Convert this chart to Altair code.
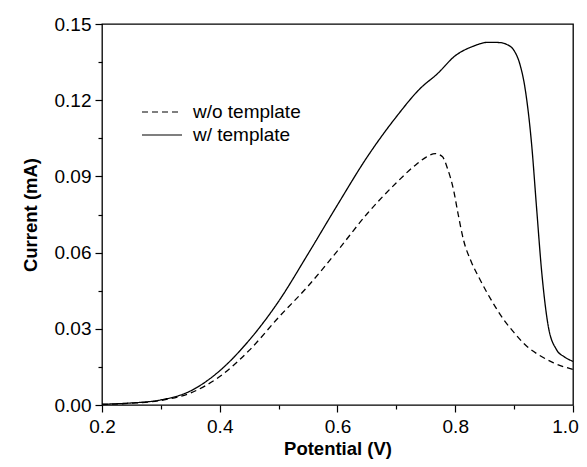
import altair as alt
import pandas as pd

# w/ template (solid)
solid_x = [0.2, 0.25, 0.3, 0.35, 0.4, 0.45, 0.5, 0.55, 0.6, 0.65, 0.7, 0.74,
           0.77, 0.8, 0.83, 0.856, 0.875, 0.887, 0.9, 0.91, 0.918, 0.93, 0.938,
           0.947, 0.958, 0.972, 0.985, 1.0]
solid_y = [0.0003, 0.0008, 0.0020, 0.0055, 0.0135, 0.0255, 0.0408, 0.0595, 0.0788,
           0.0975, 0.1135, 0.1245, 0.1305, 0.1375, 0.1412, 0.1428, 0.1427, 0.1420,
           0.1395, 0.134, 0.1255, 0.1019, 0.078, 0.052, 0.031, 0.0218, 0.019, 0.0172]

# w/o template (dashed)
dash_x = [0.2, 0.25, 0.3, 0.35, 0.4, 0.45, 0.5, 0.55, 0.6, 0.65, 0.7, 0.73, 0.75,
          0.766, 0.778, 0.787, 0.797, 0.805, 0.814, 0.827, 0.842, 0.862, 0.882,
          0.9, 0.921, 0.945, 0.967, 1.0]
dash_y = [0.0002, 0.0007, 0.0018, 0.0047, 0.0112, 0.0215, 0.0345, 0.0468, 0.0607,
          0.0752, 0.0875, 0.094, 0.0975, 0.099, 0.0978, 0.093, 0.0848, 0.075, 0.065,
          0.0565, 0.0494, 0.041, 0.0337, 0.0285, 0.0232, 0.0193, 0.0166, 0.014]

series_names = ["w/o template", "w/ template"]
x_major = [0.2, 0.4, 0.6, 0.8, 1.0]
x_minor = [0.3, 0.5, 0.7, 0.9]
y_major = [0.0, 0.03, 0.06, 0.09, 0.12, 0.15]
y_minor = [0.015, 0.045, 0.075, 0.105, 0.135]

df = pd.concat([
    pd.DataFrame({"x": dash_x, "y": dash_y, "series": series_names[0]}),
    pd.DataFrame({"x": solid_x, "y": solid_y, "series": series_names[1]}),
], ignore_index=True)

FONT = "Liberation Sans"
xscale = alt.Scale(domain=[0.2, 1.0], nice=False, zero=False)
yscale = alt.Scale(domain=[0.0, 0.15], nice=False)

common_axis = dict(grid=False, domain=False, tickColor="black", tickWidth=1.2,
                   labelColor="black", labelFont=FONT, labelFontSize=19,
                   titleFont=FONT, titleFontSize=18.5, titleFontWeight="bold",
                   titleColor="black")

lines = alt.Chart(df).mark_line(interpolate="monotone", strokeWidth=1.3, color="black").encode(
    x=alt.X("x:Q", scale=xscale,
            axis=alt.Axis(values=x_major, format=".1f", tickSize=7, labelPadding=5,
                          labelOffset={"condition": {"test": "datum.value > 0.99", "value": -8},
                                       "value": 0},
                          title="Potential (V)", titlePadding=3, orient="bottom",
                          labelFlush=False, labelOverlap=False, **common_axis)),
    y=alt.Y("y:Q", scale=yscale,
            axis=alt.Axis(values=y_major, format=".2f", tickSize=7, labelPadding=4,
                          title="Current (mA)", titlePadding=14, orient="left",
                          labelFlush=False, labelOverlap=False, **common_axis)),
    strokeDash=alt.StrokeDash("series:N",
                              scale=alt.Scale(domain=series_names, range=[[6, 4], [1, 0]]),
                              legend=alt.Legend(title=None, orient="none", legendX=49, legendY=77,
                                                symbolType="M-2,0H2", symbolSize=400,
                                                symbolStrokeColor="black", symbolStrokeWidth=1.2,
                                                symbolFillColor="transparent",
                                                labelFont=FONT, labelFontSize=19, labelColor="black",
                                                labelOffset=20, rowPadding=2)),
)

minor = alt.Chart(df).mark_point(opacity=0).encode(
    x=alt.X("x:Q", scale=xscale,
            axis=alt.Axis(values=x_minor, labels=False, title=None, tickSize=4,
                          orient="bottom", grid=False, domain=False,
                          tickColor="black", tickWidth=1.2)),
    y=alt.Y("y:Q", scale=yscale,
            axis=alt.Axis(values=y_minor, labels=False, title=None, tickSize=4,
                          orient="left", grid=False, domain=False,
                          tickColor="black", tickWidth=1.2)),
)

chart = alt.layer(lines, minor).resolve_axis(x="independent", y="independent").properties(
    width=471, height=381,
    autosize=alt.AutoSizeParams(type="none"),
    padding={"left": 94, "top": 16, "right": 6, "bottom": 54},
).configure_view(stroke="black", strokeWidth=1.3)

chart.save("out.html", embed_options={"renderer": "svg", "actions": False})
